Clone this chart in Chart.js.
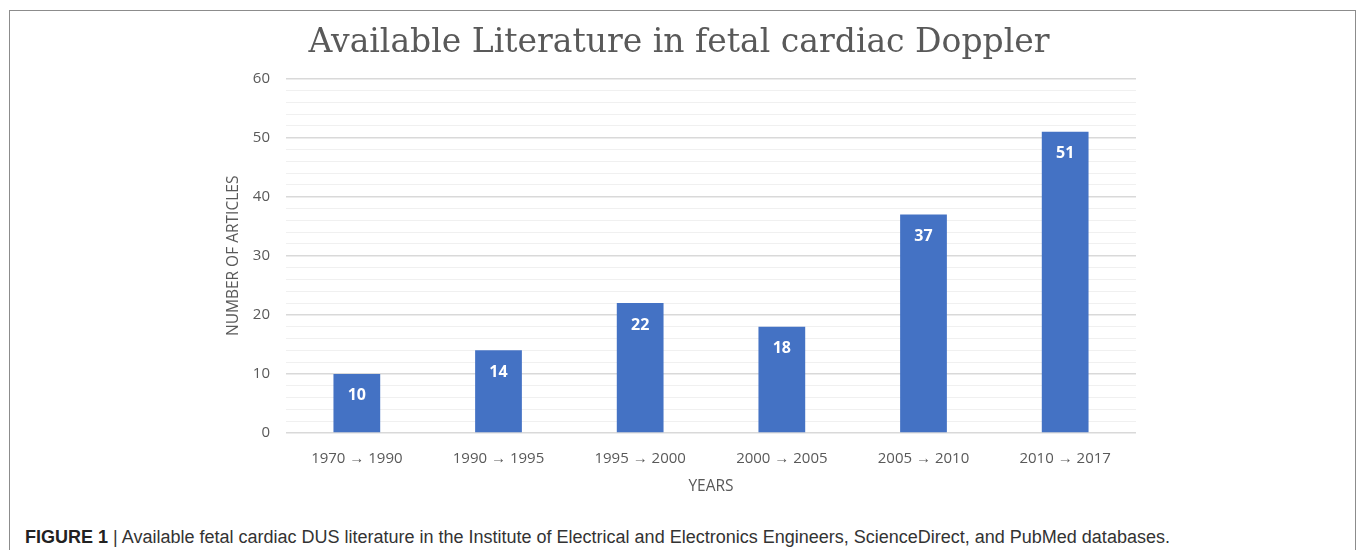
<!DOCTYPE html>
<html>
<head>
<meta charset="utf-8">
<script src="https://cdn.jsdelivr.net/npm/chart.js@4.4.1/dist/chart.umd.min.js"></script>
<style>
  html, body { margin: 0; padding: 0; background: #fff; }
  body { width: 1358px; height: 550px; position: relative; overflow: hidden; }
  #frame {
    position: absolute; left: 9px; top: 10px; width: 1347px; height: 600px;
    border: 1px solid #8c8c8c; box-sizing: border-box;
  }
  #wrap { position: absolute; left: 0; top: 0; width: 1358px; height: 510px; }
  #caption {
    position: absolute; left: 25px; top: 527px;
    font-family: "Liberation Sans", Arial, sans-serif; font-size: 18px; color: #333;
    white-space: nowrap;
  }
  #caption b { color: #222; }
</style>
</head>
<body>
<div id="frame"></div>
<div id="wrap"><canvas id="chart"></canvas></div>
<div id="caption"><b>FIGURE 1</b> | Available fetal cardiac DUS literature in the Institute of Electrical and Electronics Engineers, ScienceDirect, and PubMed databases.</div>
<script>
const periods = ["1970 \u2192 1990", "1990 \u2192 1995", "1995 \u2192 2000", "2000 \u2192 2005", "2005 \u2192 2010", "2010 \u2192 2017"];
const articles = [10, 14, 22, 18, 37, 51];

const textGrey = "#595959";

// white value labels inside the top of each bar
const barLabels = {
  id: "barLabels",
  afterDatasetsDraw(chart) {
    const ctx = chart.ctx;
    const meta = chart.getDatasetMeta(0);
    ctx.save();
    ctx.fillStyle = "#fff";
    ctx.font = "bold 16px 'Open Sans'";
    ctx.textAlign = "center";
    ctx.textBaseline = "middle";
    meta.data.forEach((bar, i) => {
      ctx.fillText(String(articles[i]), bar.x, bar.y + 22);
    });
    ctx.restore();
  }
};

new Chart(document.getElementById("chart"), {
  type: "bar",
  data: {
    labels: periods,
    datasets: [{
      data: articles,
      backgroundColor: "#4472C4",
      borderWidth: 0,
      barPercentage: 0.33,
      categoryPercentage: 1
    }]
  },
  plugins: [barLabels],
  options: {
    responsive: true,
    maintainAspectRatio: false,
    animation: false,
    layout: { padding: { left: 222, right: 222, top: 0, bottom: 10 } },
    plugins: {
      legend: { display: false },
      tooltip: { enabled: false },
      title: {
        display: true,
        text: "Available Literature in fetal cardiac Doppler",
        color: textGrey,
        font: { family: "'DejaVu Serif'", size: 33, weight: "normal", lineHeight: 1.2 },
        padding: { top: 24, bottom: 15 }
      }
    },
    scales: {
      x: {
        grid: { display: false },
        border: { display: false },
        ticks: { color: textGrey, font: { family: "'Open Sans'", size: 15 }, padding: 9 },
        title: {
          display: true, text: "YEARS", color: textGrey,
          font: { family: "'Open Sans'", size: 15.5 }
        },
        afterFit: (scale) => { scale.height = 67; }
      },
      y: {
        min: 0,
        max: 60,
        border: { display: false },
        grid: {
          drawTicks: false,
          color: (c) => (c.tick && c.tick.value % 10 === 0 ? "#d9d9d9" : "#f0f0f0"),
          lineWidth: (c) => (c.tick && c.tick.value % 10 === 0 ? 1.5 : 1)
        },
        ticks: {
          stepSize: 2,
          autoSkip: false,
          padding: 16,
          color: textGrey,
          font: { family: "'Open Sans'", size: 15 },
          callback: (v) => (v % 10 === 0 ? v : "")
        },
        title: {
          display: true, text: "NUMBER OF ARTICLES", color: textGrey,
          font: { family: "'Open Sans'", size: 15.5 },
          padding: { top: 2, bottom: 4 }
        },
        afterFit: (scale) => { scale.width = 64; }
      }
    }
  }
});
</script>
</body>
</html>
